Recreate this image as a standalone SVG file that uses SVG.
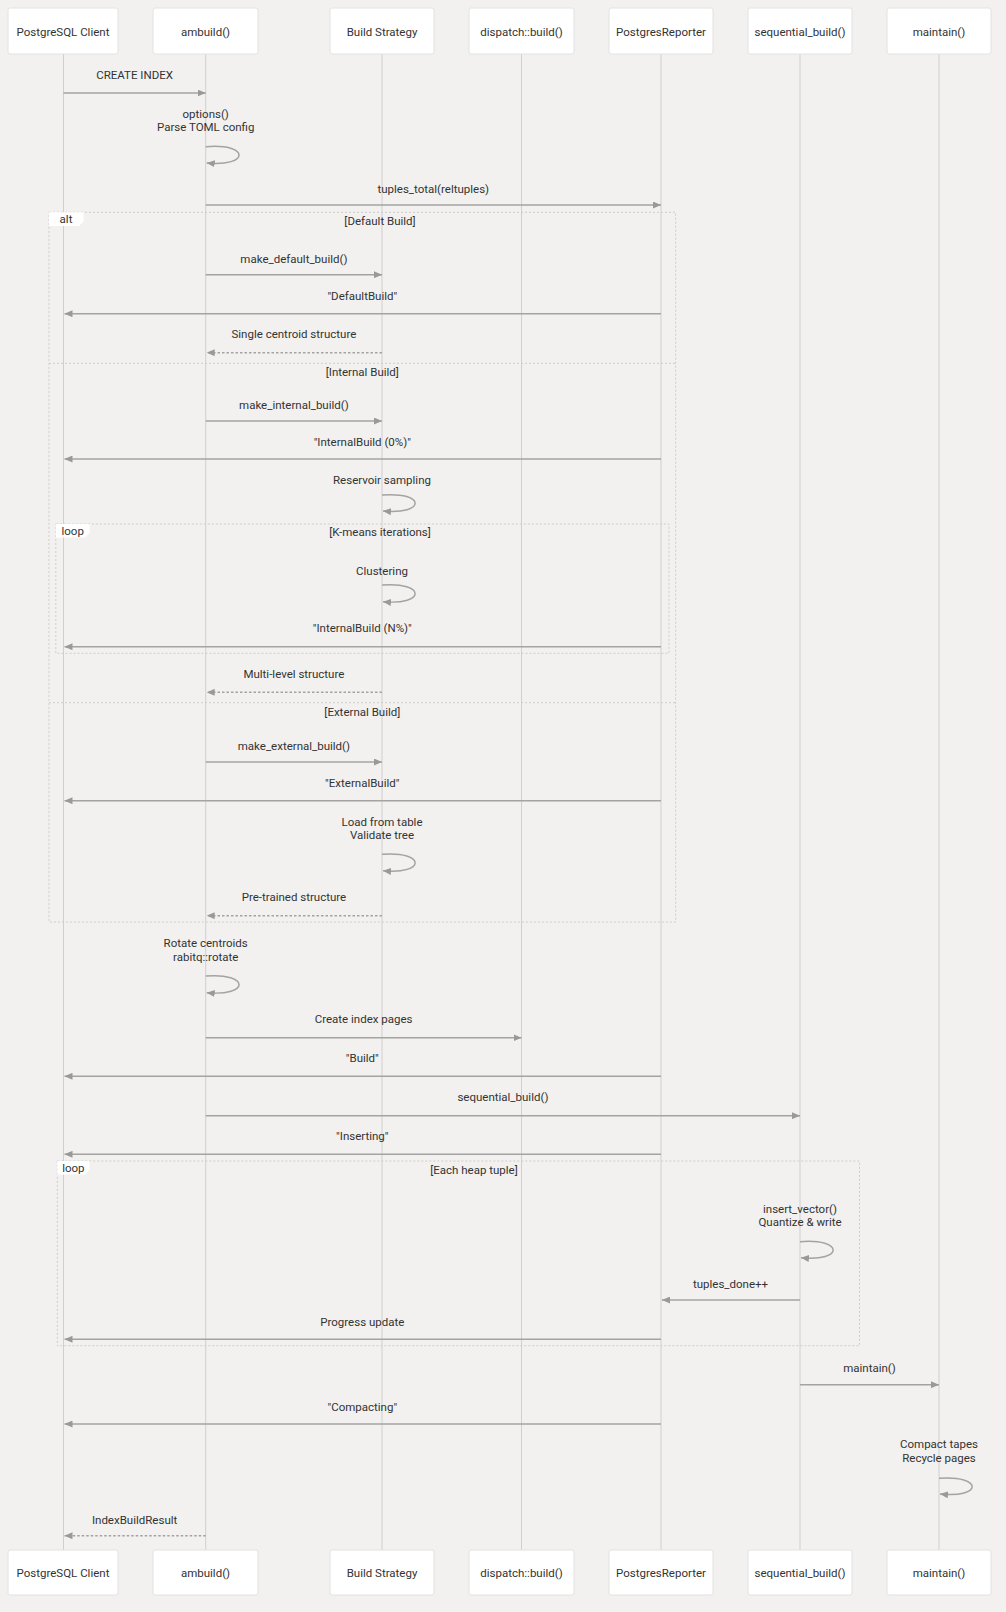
<svg xmlns="http://www.w3.org/2000/svg" width="1006" height="1612" viewBox="0 0 1006 1612">
<defs>
<style>
text{font-family:Roboto,"Liberation Sans",Arial,sans-serif;font-size:11.5px;fill:#333;text-anchor:middle}
.box{fill:#fff;stroke:#e2e2e2;stroke-width:1}
.life{stroke:#cfcfcf;stroke-width:1}
.msg{stroke:#a3a3a3;stroke-width:1.5;fill:none}
.dash{stroke:#a3a3a3;stroke-width:1.5;fill:none;stroke-dasharray:2.5,2}
.frame{fill:none;stroke:#cdcdcd;stroke-width:1;stroke-dasharray:2,2}
.lbl{fill:#fff;stroke:none}
</style>
<marker id="ah" viewBox="0 0 8 7" refX="8" refY="3.5" markerWidth="8" markerHeight="7" markerUnits="userSpaceOnUse" orient="auto">
<path d="M0,0 L8,3.5 L0,7 z" fill="#999"/>
</marker>
</defs>
<rect width="1006" height="1612" fill="#f2f1ef"/>

<g id="lifelines">
<line class="life" x1="63.5" y1="54" x2="63.5" y2="1550"/>
<line class="life" x1="205.7" y1="54" x2="205.7" y2="1550"/>
<line class="life" x1="382" y1="54" x2="382" y2="1550"/>
<line class="life" x1="521.5" y1="54" x2="521.5" y2="1550"/>
<line class="life" x1="661" y1="54" x2="661" y2="1550"/>
<line class="life" x1="800" y1="54" x2="800" y2="1550"/>
<line class="life" x1="939" y1="54" x2="939" y2="1550"/>
</g>

<g id="frames">
<rect class="frame" x="49" y="212.3" width="626.6" height="709.7"/>
<line class="frame" x1="49" y1="363.3" x2="675.6" y2="363.3"/>
<line class="frame" x1="49" y1="702.7" x2="675.6" y2="702.7"/>
<polygon class="lbl" points="49,212.3 83.5,212.3 83.5,221.5 79,226 49,226"/>
<text x="66" y="223">alt</text>
<text x="380" y="225.3">[Default Build]</text>
<text x="362.3" y="376.3">[Internal Build]</text>
<text x="362.3" y="715.7">[External Build]</text>

<rect class="frame" x="55.8" y="524" width="613.2" height="129.3"/>
<polygon class="lbl" points="55.8,524 89.7,524 89.7,533 85.2,537.5 55.8,537.5"/>
<text x="72.7" y="535">loop</text>
<text x="380" y="536.3">[K-means iterations]</text>

<rect class="frame" x="57.3" y="1161" width="802.2" height="184.7"/>
<polygon class="lbl" points="57.3,1161 89.5,1161 89.5,1170 85,1174.5 57.3,1174.5"/>
<text x="73.4" y="1172">loop</text>
<text x="474" y="1174">[Each heap tuple]</text>
</g>

<g id="connectors">
<line class="msg" x1="63.5" y1="93" x2="205.7" y2="93" marker-end="url(#ah)"/>
<text x="134.6" y="79.3">CREATE INDEX</text>

<path class="msg" d="M205.7,146.7 C250,143 250,167 206.7,163" marker-end="url(#ah)"/>
<text x="205.7" y="118">options()</text>
<text x="205.7" y="131.3">Parse TOML config</text>

<line class="msg" x1="205.7" y1="205" x2="661" y2="205" marker-end="url(#ah)"/>
<text x="433.3" y="193.3">tuples_total(reltuples)</text>

<line class="msg" x1="205.7" y1="274.7" x2="382" y2="274.7" marker-end="url(#ah)"/>
<text x="293.9" y="263.3">make_default_build()</text>

<line class="msg" x1="661" y1="313.7" x2="64.5" y2="313.7" marker-end="url(#ah)"/>
<text x="362.3" y="299.7">"DefaultBuild"</text>

<line class="dash" x1="382" y1="352.7" x2="206.7" y2="352.7" marker-end="url(#ah)"/>
<text x="293.9" y="338.3">Single centroid structure</text>

<line class="msg" x1="205.7" y1="421" x2="382" y2="421" marker-end="url(#ah)"/>
<text x="293.9" y="409.3">make_internal_build()</text>

<line class="msg" x1="661" y1="459" x2="64.5" y2="459" marker-end="url(#ah)"/>
<text x="362.3" y="445.7">"InternalBuild (0%)"</text>

<path class="msg" d="M382,495 C426,491.5 426,515 383,511" marker-end="url(#ah)"/>
<text x="382" y="484.3">Reservoir sampling</text>

<path class="msg" d="M382,585 C426,581.5 426,605.5 383,601.7" marker-end="url(#ah)"/>
<text x="382" y="575">Clustering</text>

<line class="msg" x1="661" y1="646.7" x2="64.5" y2="646.7" marker-end="url(#ah)"/>
<text x="362.3" y="632.3">"InternalBuild (N%)"</text>

<line class="dash" x1="382" y1="692.3" x2="206.7" y2="692.3" marker-end="url(#ah)"/>
<text x="293.9" y="678">Multi-level structure</text>

<line class="msg" x1="205.7" y1="762" x2="382" y2="762" marker-end="url(#ah)"/>
<text x="293.9" y="750.3">make_external_build()</text>

<line class="msg" x1="661" y1="800.7" x2="64.5" y2="800.7" marker-end="url(#ah)"/>
<text x="362.3" y="787.3">"ExternalBuild"</text>

<path class="msg" d="M382,854.3 C426,850.8 426,874.8 383,870.7" marker-end="url(#ah)"/>
<text x="382" y="826.3">Load from table</text>
<text x="382" y="839.3">Validate tree</text>

<line class="dash" x1="382" y1="915.7" x2="206.7" y2="915.7" marker-end="url(#ah)"/>
<text x="293.9" y="901.3">Pre-trained structure</text>

<path class="msg" d="M205.7,976 C250,972.5 250,996.5 206.7,992.7" marker-end="url(#ah)"/>
<text x="205.7" y="947.3">Rotate centroids</text>
<text x="205.7" y="961.3">rabitq::rotate</text>

<line class="msg" x1="205.7" y1="1037.7" x2="521.5" y2="1037.7" marker-end="url(#ah)"/>
<text x="363.6" y="1023.3">Create index pages</text>

<line class="msg" x1="661" y1="1076.3" x2="64.5" y2="1076.3" marker-end="url(#ah)"/>
<text x="362.3" y="1062.3">"Build"</text>

<line class="msg" x1="205.7" y1="1115.7" x2="800" y2="1115.7" marker-end="url(#ah)"/>
<text x="502.9" y="1101.3">sequential_build()</text>

<line class="msg" x1="661" y1="1154.3" x2="64.5" y2="1154.3" marker-end="url(#ah)"/>
<text x="362.3" y="1140.3">"Inserting"</text>

<path class="msg" d="M800,1241.7 C844,1238.2 844,1262 801,1257.7" marker-end="url(#ah)"/>
<text x="800" y="1213.3">insert_vector()</text>
<text x="800" y="1226">Quantize &amp; write</text>

<line class="msg" x1="800" y1="1300" x2="662" y2="1300" marker-end="url(#ah)"/>
<text x="730.5" y="1288.3">tuples_done++</text>

<line class="msg" x1="661" y1="1339.3" x2="64.5" y2="1339.3" marker-end="url(#ah)"/>
<text x="362.3" y="1325.7">Progress update</text>

<line class="msg" x1="800" y1="1384.7" x2="939" y2="1384.7" marker-end="url(#ah)"/>
<text x="869.5" y="1371.7">maintain()</text>

<line class="msg" x1="661" y1="1424" x2="64.5" y2="1424" marker-end="url(#ah)"/>
<text x="362.3" y="1410.7">"Compacting"</text>

<path class="msg" d="M939,1478.3 C983,1474.8 983,1498.5 940,1494" marker-end="url(#ah)"/>
<text x="939" y="1448.3">Compact tapes</text>
<text x="939" y="1462.3">Recycle pages</text>

<line class="dash" x1="205.7" y1="1535.7" x2="64.5" y2="1535.7" marker-end="url(#ah)"/>
<text x="134.6" y="1524.3">IndexBuildResult</text>
</g>

<g id="client">
<rect class="box" x="8" y="8" width="110" height="46" rx="2"/>
<text x="63" y="35.5">PostgreSQL Client</text>
<rect class="box" x="8" y="1550" width="110" height="45" rx="2"/>
<text x="63" y="1576.5">PostgreSQL Client</text>
</g>
<g id="ambuild">
<rect class="box" x="153" y="8" width="105" height="46" rx="2"/>
<text x="205.5" y="35.5">ambuild()</text>
<rect class="box" x="153" y="1550" width="105" height="45" rx="2"/>
<text x="205.5" y="1576.5">ambuild()</text>
</g>
<g id="strategy">
<rect class="box" x="330" y="8" width="104" height="46" rx="2"/>
<text x="382" y="35.5">Build Strategy</text>
<rect class="box" x="330" y="1550" width="104" height="45" rx="2"/>
<text x="382" y="1576.5">Build Strategy</text>
</g>
<g id="dispatch">
<rect class="box" x="469" y="8" width="105" height="46" rx="2"/>
<text x="521.5" y="35.5">dispatch::build()</text>
<rect class="box" x="469" y="1550" width="105" height="45" rx="2"/>
<text x="521.5" y="1576.5">dispatch::build()</text>
</g>
<g id="reporter">
<rect class="box" x="609" y="8" width="104" height="46" rx="2"/>
<text x="661" y="35.5">PostgresReporter</text>
<rect class="box" x="609" y="1550" width="104" height="45" rx="2"/>
<text x="661" y="1576.5">PostgresReporter</text>
</g>
<g id="sequential">
<rect class="box" x="748" y="8" width="104" height="46" rx="2"/>
<text x="800" y="35.5">sequential_build()</text>
<rect class="box" x="748" y="1550" width="104" height="45" rx="2"/>
<text x="800" y="1576.5">sequential_build()</text>
</g>
<g id="maintain">
<rect class="box" x="887" y="8" width="104" height="46" rx="2"/>
<text x="939" y="35.5">maintain()</text>
<rect class="box" x="887" y="1550" width="104" height="45" rx="2"/>
<text x="939" y="1576.5">maintain()</text>
</g>
</svg>
